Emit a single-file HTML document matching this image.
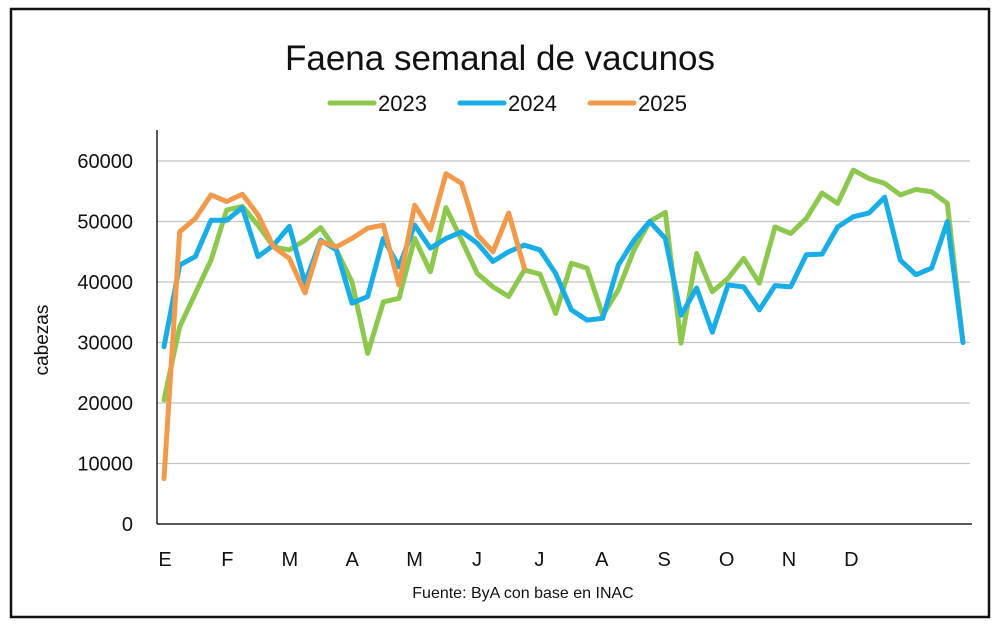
<!DOCTYPE html>
<html><head><meta charset="utf-8"><style>
body{margin:0;background:#fff;}
svg text{font-family:"Liberation Sans",Arial,sans-serif;fill:#111;}
</style></head><body>
<svg width="1000" height="627" viewBox="0 0 1000 627" xmlns="http://www.w3.org/2000/svg">
<rect x="11" y="9" width="978" height="608" fill="#fff" stroke="#111" stroke-width="2.5"/>
<text x="500" y="70" font-size="35" text-anchor="middle">Faena semanal de vacunos</text>
<g id="legend"></g>
<g id="grid"></g>
<g id="yticks"></g>
<g id="xticks"></g>
<line x1="157" y1="130" x2="157" y2="524" stroke="#222" stroke-width="1.5"/>
<line x1="157" y1="524" x2="972" y2="524" stroke="#222" stroke-width="1.5"/>
<text transform="translate(48,340) rotate(-90)" font-size="19" text-anchor="middle">cabezas</text>
<text x="523" y="598" font-size="16" text-anchor="middle">Fuente: ByA con base en INAC</text>
<g id="series"></g>
</svg>
<script>
const months=["E","F","M","A","M","J","J","A","S","O","N","D"];
const yTicks=[0,10000,20000,30000,40000,50000,60000];
const s2023=[20500,32600,38100,43600,51900,52500,49400,45800,45300,46900,49000,45300,40000,28200,36700,37300,47200,41700,52300,46900,41400,39200,37600,42000,41300,34800,43100,42300,34500,38700,45300,50000,51500,29900,44700,38400,40600,43900,39800,49100,48000,50500,54700,53000,58500,57100,56300,54400,55300,54900,53000,30000];
const s2024=[29300,42800,44200,50200,50200,52300,44200,46100,49200,39800,46900,45300,36500,37600,47200,42500,49400,45600,47200,48300,46400,43400,45000,46100,45300,41400,35400,33700,34000,42800,46900,50000,47200,34500,39000,31700,39500,39200,35400,39400,39200,44500,44600,49100,50800,51400,54000,43600,41200,42300,50000,30000];
const s2025=[7500,48300,50500,54400,53300,54500,51100,45800,43900,38200,46700,45800,47200,48900,49400,39500,52700,48600,57900,56300,47800,45000,51400,42300];
const seriesNames=["2023","2024","2025"];
const colors=["#8dc84e","#18ade6","#f29a4c"];
const NS="http://www.w3.org/2000/svg";
const X=i=>164+i*(963-164)/51;
const Y=v=>524-v*(524-161)/60000;
function mk(tag,attrs,parent){const e=document.createElementNS(NS,tag);for(const k in attrs)e.setAttribute(k,attrs[k]);parent.appendChild(e);return e;}
const grid=document.getElementById('grid'),yt=document.getElementById('yticks'),xt=document.getElementById('xticks'),ser=document.getElementById('series'),leg=document.getElementById('legend');
yTicks.forEach(v=>{
 if(v>0){const l=mk('line',{x1:157,x2:970,y1:Y(v),y2:Y(v),stroke:'#c4c4c4','stroke-width':1.3},grid);
 
 }
 const t=mk('text',{x:133,y:Y(v)+7,'font-size':20,'text-anchor':'end'},yt);t.textContent=v;
 
 
});
months.forEach((m,i)=>{
 const t=mk('text',{x:165+i*62.4,y:566,'font-size':20,'text-anchor':'middle'},xt);t.textContent=m;
 
 
});
[s2023,s2024,s2025].forEach((d,k)=>{
 const p=mk('polyline',{points:d.map((v,i)=>X(i)+','+Y(v)).join(' '),fill:'none',stroke:colors[k],'stroke-width':5,'stroke-linejoin':'round','stroke-linecap':'round'},ser);
 
 
});
const lx=[330,460,590];
seriesNames.forEach((n,k)=>{
 const l=mk('line',{x1:lx[k],x2:lx[k]+44,y1:103,y2:103,stroke:colors[k],'stroke-width':5,'stroke-linecap':'round'},leg);
 
 
 const t=mk('text',{x:lx[k]+48,y:111,'font-size':22},leg);t.textContent=n;
 
 
});
</script>
</body></html>
